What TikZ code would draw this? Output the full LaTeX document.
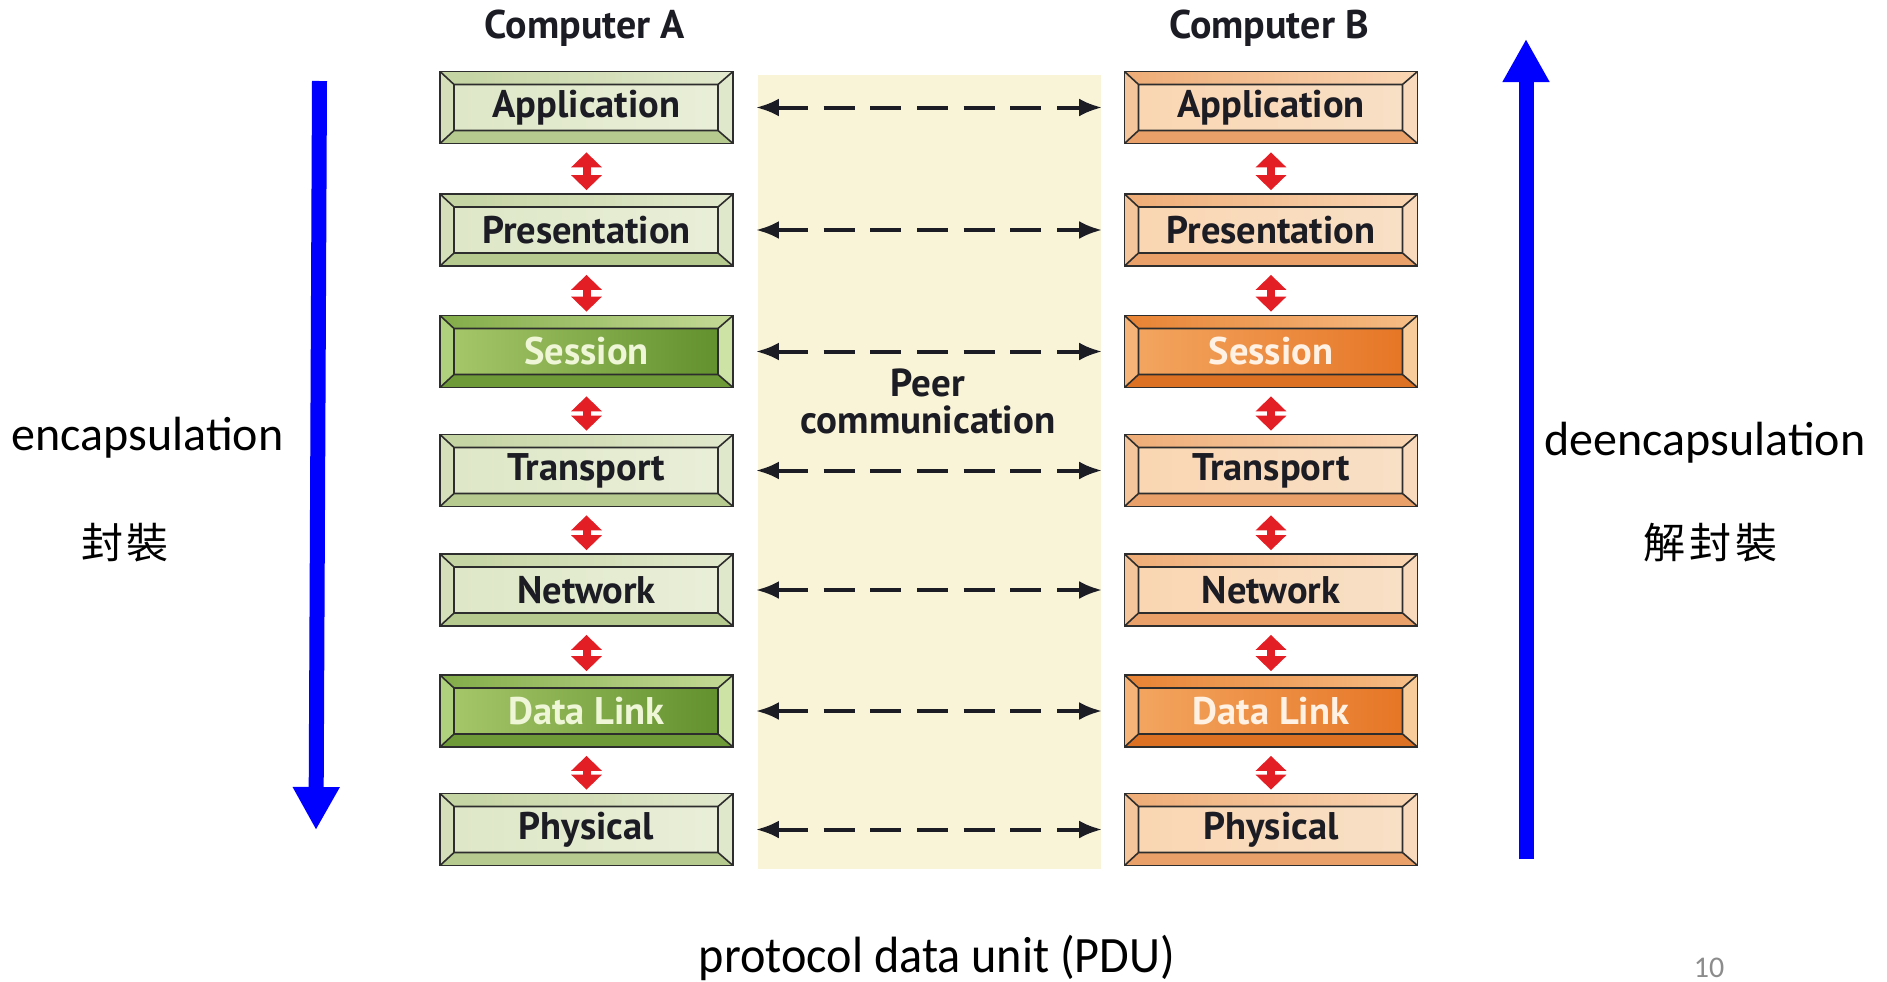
\documentclass[tikz,border=0pt]{standalone}
\usepackage{fontspec}
\usepackage{graphicx}
\usetikzlibrary{arrows.meta}
\newfontfamily\lblfont{PT Sans}
\newfontfamily\calfont{Carlito}
\newfontfamily\cjkfont{Noto Sans CJK TC}
\definecolor{edgecol}{RGB}{45,45,45}
\definecolor{gIn1}{RGB}{222,231,199}\definecolor{gIn2}{RGB}{233,239,216}
\definecolor{gTop1}{RGB}{195,211,160}\definecolor{gTop2}{RGB}{226,233,206}
\definecolor{gBot}{RGB}{182,201,143}\definecolor{gLeft}{RGB}{213,224,187}\definecolor{gRight}{RGB}{224,232,203}
\definecolor{dIn1}{RGB}{165,198,105}\definecolor{dIn2}{RGB}{98,145,45}
\definecolor{dTop1}{RGB}{130,172,72}\definecolor{dTop2}{RGB}{196,218,150}
\definecolor{dBot}{RGB}{110,155,55}\definecolor{dLeft}{RGB}{175,208,125}\definecolor{dRight}{RGB}{205,226,165}
\definecolor{oIn1}{RGB}{250,214,178}\definecolor{oIn2}{RGB}{248,224,198}
\definecolor{oTop1}{RGB}{238,172,118}\definecolor{oTop2}{RGB}{250,214,180}
\definecolor{oBot}{RGB}{233,160,105}\definecolor{oLeft}{RGB}{245,198,155}\definecolor{oRight}{RGB}{250,218,188}
\definecolor{DIn1}{RGB}{243,165,95}\definecolor{DIn2}{RGB}{230,118,38}
\definecolor{DTop1}{RGB}{232,130,50}\definecolor{DTop2}{RGB}{246,190,135}
\definecolor{DBot}{RGB}{220,112,35}\definecolor{DLeft}{RGB}{246,180,120}\definecolor{DRight}{RGB}{248,205,155}
\definecolor{txtdark}{RGB}{28,28,36}
\definecolor{txtG}{RGB}{238,246,215}
\definecolor{txtO}{RGB}{255,242,228}
\definecolor{redarr}{RGB}{228,30,37}
\definecolor{beige}{RGB}{249,244,216}
\definecolor{pagenum}{RGB}{140,140,140}
\tikzset{
  bevelbox/.style n args={7}{
    path picture={
      \path (path picture bounding box.north west) coordinate (q1)
            (path picture bounding box.north east) coordinate (q2)
            (path picture bounding box.south east) coordinate (q3)
            (path picture bounding box.south west) coordinate (q4);
      \path ([shift={(14,13)}]q1) coordinate (r1)
            ([shift={(-15,13)}]q2) coordinate (r2)
            ([shift={(-15,-13)}]q3) coordinate (r3)
            ([shift={(14,-13)}]q4) coordinate (r4);
      \shade[left color=#6, right color=#7] (r1) rectangle (r3);
      \shade[left color=#1, right color=#2] (q1) -- (q2) -- (r2) -- (r1) -- cycle;
      \fill[#3] (q4) -- (q3) -- (r3) -- (r4) -- cycle;
      \fill[#4] (q1) -- (r1) -- (r4) -- (q4) -- cycle;
      \fill[#5] (q2) -- (r2) -- (r3) -- (q3) -- cycle;
      \draw[edgecol, line width=1.6pt] (r1) rectangle (r3)
            (q1) -- (r1) (q2) -- (r2) (q3) -- (r3) (q4) -- (r4);
    }
  },
  layer/.style={rectangle, minimum width=293pt, minimum height=72pt, inner sep=0pt,
    draw=edgecol, line width=1.8pt,
    font=\lblfont\bfseries\fontsize{38.5}{40}\selectfont},
  lightG/.style={layer, bevelbox={gTop1}{gTop2}{gBot}{gLeft}{gRight}{gIn1}{gIn2}, text=txtdark},
  darkG/.style={layer, bevelbox={dTop1}{dTop2}{dBot}{dLeft}{dRight}{dIn1}{dIn2}, text=txtG},
  lightO/.style={layer, bevelbox={oTop1}{oTop2}{oBot}{oLeft}{oRight}{oIn1}{oIn2}, text=txtdark},
  darkO/.style={layer, bevelbox={DTop1}{DTop2}{DBot}{DLeft}{DRight}{DIn1}{DIn2}, text=txtO},
  updown/.style={draw=redarr, line width=8pt,
    {Triangle[length=15pt,width=30pt]}-{Triangle[length=15pt,width=30pt]},
    shorten <=8pt, shorten >=3pt},
  peer/.style={draw=txtdark, line width=4pt, dash pattern=on 31pt off 15.7pt,
    {Latex[length=23pt,width=18pt]}-{Latex[length=23pt,width=18pt]},
    shorten <=22pt, shorten >=21.5pt},
  bigarrow/.style={draw=blue, line width=15pt, -{Triangle[length=43pt,width=44pt]}},
  heading/.style={font=\lblfont\bfseries\fontsize{40}{44}\selectfont, text=txtdark},
  sidetext/.style={font=\calfont\fontsize{48}{52}\selectfont, text=black},
  cjktext/.style={font=\cjkfont\fontsize{42}{46}\selectfont, text=black}
}
\begin{document}
\begin{tikzpicture}[x=1pt,y=-1pt]
\useasboundingbox (0,0) rectangle (1887,982);
\fill[white] (0,0) rectangle (1887,982);

% peer background
\node[fill=beige, minimum width=343pt, minimum height=794pt, inner sep=0pt] (peerbg) at (929.5,472) {};

% headings
\node[heading] (compA) at (585,28) {Computer A};
\node[heading] (compB) at (1269,28) {Computer B};

% Computer A stack
\node[lightG] (a1) at (586.5,107.5) {Application};
\node[lightG] (a2) at (586.5,230)   {Presentation};
\node[darkG]  (a3) at (586.5,351.5) {Session};
\node[lightG] (a4) at (586.5,470.5) {Transport};
\node[lightG] (a5) at (586.5,590)   {Network};
\node[darkG]  (a6) at (586.5,711)   {Data Link};
\node[lightG] (a7) at (586.5,829.5) {Physical};

% Computer B stack
\node[lightO] (b1) at (1271,107.5) {Application};
\node[lightO] (b2) at (1271,230)   {Presentation};
\node[darkO]  (b3) at (1271,351.5) {Session};
\node[lightO] (b4) at (1271,470.5) {Transport};
\node[lightO] (b5) at (1271,590)   {Network};
\node[darkO]  (b6) at (1271,711)   {Data Link};
\node[lightO] (b7) at (1271,829.5) {Physical};

% vertical red arrows
\foreach \u/\l in {1/2,2/3,3/4,4/5,5/6,6/7}{
  \draw[updown] (a\u.south) -- (a\l.north);
  \draw[updown] (b\u.south) -- (b\l.north);
}

% peer dashed arrows
\foreach \i in {1,...,7}{
  \draw[peer] (a\i.east) -- (b\i.west);
}

\node[font=\lblfont\bfseries\fontsize{39}{37}\selectfont, text=txtdark, align=center] (peerlbl) at (928,401) {Peer\\communication};

% blue arrows
\coordinate (encTop) at (319.5,81);
\coordinate (encBot) at (316,830);
\draw[bigarrow] (encTop) -- (encBot);
\coordinate (decBot) at (1526,859);
\coordinate (decTop) at (1526,39);
\draw[bigarrow] (decBot) -- (decTop);

% side labels
\node[sidetext, anchor=base] (enc) at (147.5,450) {encapsulation};
\node[cjktext] (enczh) at (125,543) {封\kern4pt 裝};
\node[sidetext, anchor=base] (dec) at (1705,455) {deencapsulation};
\node[cjktext] (deczh) at (1710,543) {解\kern4pt 封\kern4pt 裝};

% bottom
\node[font=\calfont\fontsize{51}{55}\selectfont, anchor=base] (pdu) at (937,972) {\scalebox{0.945}[1]{protocol data unit (PDU)}};
\node[font=\calfont\fontsize{30}{34}\selectfont, text=pagenum, anchor=base] (pnum) at (1709,977) {10};
\end{tikzpicture}
\end{document}
